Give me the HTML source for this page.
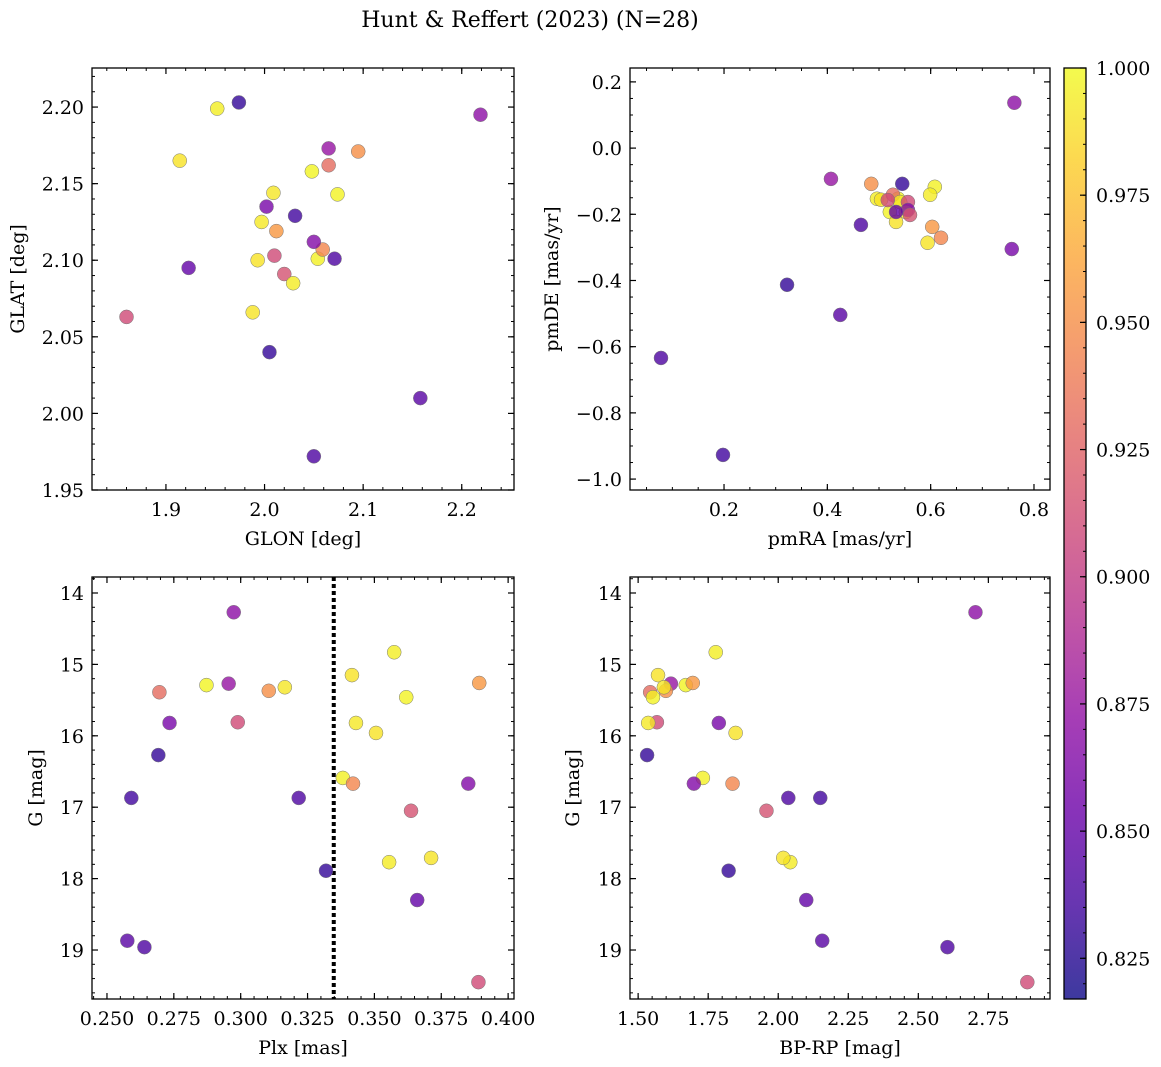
<!DOCTYPE html>
<html><head><meta charset="utf-8"><style>
html,body{margin:0;padding:0;background:#fff;}
svg{display:block;font-family:"DejaVu Serif","Liberation Serif",serif;}
</style></head><body>
<svg id="fig" width="1161" height="1067" viewBox="0 0 1161 1067" xmlns="http://www.w3.org/2000/svg">
<text x="530" y="27" font-size="22" text-anchor="middle">Hunt &amp; Reffert (2023) (N=28)</text>
</svg>
<script>
// star data (same order in every array)
const glon = [2.219,1.952,1.914,2.048,2.065,2.065,2.095,2.009,2.012,2.074,2.010,2.002,1.997,1.993,1.974,2.054,2.059,2.050,2.031,2.071,2.020,2.029,1.988,2.005,1.923,2.158,2.050,1.860];
const glat = [2.195,2.199,2.165,2.158,2.173,2.162,2.171,2.144,2.119,2.143,2.103,2.135,2.125,2.100,2.203,2.101,2.107,2.112,2.129,2.101,2.091,2.085,2.066,2.040,2.095,2.010,1.972,2.063];
const pmra = [0.762,0.496,0.504,0.537,0.407,0.527,0.485,0.541,0.603,0.521,0.556,0.757,0.552,0.533,0.545,0.608,0.620,0.556,0.198,0.465,0.560,0.599,0.594,0.322,0.533,0.425,0.078,0.517];
const pmde = [0.137,-0.153,-0.156,-0.153,-0.093,-0.141,-0.108,-0.163,-0.238,-0.193,-0.163,-0.305,-0.193,-0.223,-0.108,-0.117,-0.271,-0.187,-0.927,-0.232,-0.202,-0.141,-0.286,-0.413,-0.193,-0.504,-0.634,-0.157];
const plx  = [0.2974,0.3574,0.3416,0.2872,0.2955,0.2696,0.3105,0.3165,0.3892,0.3619,0.2989,0.2734,0.3431,0.3506,0.2692,0.3382,0.3420,0.3851,0.2591,0.3217,0.3637,0.3555,0.3712,0.3319,0.3660,0.2576,0.2640,0.3889];
const gmag = [14.27,14.83,15.15,15.29,15.27,15.39,15.37,15.32,15.26,15.46,15.81,15.82,15.82,15.96,16.27,16.59,16.67,16.67,16.87,16.87,17.05,17.77,17.71,17.89,18.30,18.87,18.96,19.45];
const bprp = [2.704,1.777,1.571,1.670,1.617,1.543,1.599,1.592,1.695,1.553,1.567,1.788,1.536,1.848,1.532,1.731,1.837,1.699,2.150,2.036,1.958,2.043,2.018,1.823,2.100,2.157,2.604,2.889];
const prob = [0.870,0.995,0.990,0.998,0.875,0.930,0.950,0.992,0.955,0.997,0.910,0.860,0.993,0.990,0.830,0.996,0.945,0.865,0.835,0.840,0.915,0.994,0.991,0.830,0.850,0.845,0.840,0.910];
const plxCut = [0.3348];
const cbTicks = [0.825,0.850,0.875,0.900,0.925,0.950,0.975,1.000];
const cbRange = [0.817,1.000];

const NS='http://www.w3.org/2000/svg';
const svg=document.getElementById('fig');
function mk(tag,attrs,parent){const e=document.createElementNS(NS,tag);for(const k in attrs)e.setAttribute(k,attrs[k]);(parent||svg).appendChild(e);return e;}
const stops=['#0d0887','#41049d','#6a00a8','#8f0da4','#b12a90','#cc4778','#e16462','#f2844b','#fca636','#fcce25','#f0f921'];
function hex(h){return [1,3,5].map(i=>parseInt(h.substr(i,2),16));}
function plasma(t){t=Math.max(0,Math.min(1,t));const f=t*10,i=Math.min(9,Math.floor(f)),r=f-i;const a=hex(stops[i]),b=hex(stops[i+1]);return 'rgb('+a.map((v,k)=>Math.round(v+(b[k]-v)*r)).join(',')+')';}
function pcol(p){return plasma((p-cbRange[0])/(cbRange[1]-cbRange[0]));}

function fmt(v,d){let s=v.toFixed(d);if(s.startsWith('-'))s='\u2212'+s.slice(1);return s;}
const FS=19;

function panel(cfg){
  const g=mk('g',{});
  
  
  const {L,R,T,B}=cfg;
  const sx=v=>L+(v-cfg.x0)/(cfg.x1-cfg.x0)*(R-L);
  const sy=cfg.inv? v=>T+(v-cfg.y0)/(cfg.y1-cfg.y0)*(B-T) : v=>B-(v-cfg.y0)/(cfg.y1-cfg.y0)*(B-T);
  const eps=1e-9;
  function ticks(a0,a1,step){const out=[];let s=Math.ceil((Math.min(a0,a1)-eps)/step)*step;for(let v=s;v<=Math.max(a0,a1)+eps;v+=step)out.push(+v.toFixed(6));return out;}
  ticks(cfg.x0,cfg.x1,cfg.xminor).forEach(v=>{const x=sx(v);mk('line',{x1:x,x2:x,y1:B,y2:B-3,stroke:'#000','stroke-width':1},g);mk('line',{x1:x,x2:x,y1:T,y2:T+3,stroke:'#000','stroke-width':1},g);});
  ticks(cfg.y0,cfg.y1,cfg.yminor).forEach(v=>{const y=sy(v);mk('line',{x1:L,x2:L+3,y1:y,y2:y,stroke:'#000','stroke-width':1},g);mk('line',{x1:R,x2:R-3,y1:y,y2:y,stroke:'#000','stroke-width':1},g);});
  ticks(cfg.x0,cfg.x1,cfg.xmajor).forEach(v=>{const x=sx(v);mk('line',{x1:x,x2:x,y1:B,y2:B-6,stroke:'#000','stroke-width':1.2},g);mk('line',{x1:x,x2:x,y1:T,y2:T+6,stroke:'#000','stroke-width':1.2},g);
    const t=mk('text',{x:x,y:B+26,'font-size':FS,'text-anchor':'middle'},g);t.textContent=fmt(v,cfg.xd);
    
    });
  ticks(cfg.y0,cfg.y1,cfg.ymajor).forEach(v=>{const y=sy(v);mk('line',{x1:L,x2:L+6,y1:y,y2:y,stroke:'#000','stroke-width':1.2},g);mk('line',{x1:R,x2:R-6,y1:y,y2:y,stroke:'#000','stroke-width':1.2},g);
    const t=mk('text',{x:L-8,y:y+7,'font-size':FS,'text-anchor':'end'},g);t.textContent=fmt(v,cfg.yd);
    
    });
  if(cfg.vline){cfg.vline.forEach(v=>{const x=sx(v);const l=mk('line',{x1:x,x2:x,y1:T,y2:B,stroke:'#000','stroke-width':4,'stroke-dasharray':'4,3'},g);
    
    });}
  for(let i=0;i<cfg.xs.length;i++){
    const c=mk('circle',{cx:sx(cfg.xs[i]),cy:sy(cfg.ys[i]),r:7,fill:pcol(prob[i]),'fill-opacity':0.8,stroke:'#777','stroke-width':0.5},g);
    
    
  }
  const fr=mk('rect',{x:L,y:T,width:R-L,height:B-T,fill:'none',stroke:'#000','stroke-width':1.3},g);
  
  
  const xl=mk('text',{x:(L+R)/2,y:B+55,'font-size':FS,'text-anchor':'middle'},g);xl.textContent=cfg.xlabel;
  
  
  const yl=mk('text',{x:0,y:0,'font-size':FS,'text-anchor':'middle',transform:'translate('+cfg.ylx+','+((T+B)/2)+') rotate(-90)'},g);yl.textContent=cfg.ylabel;
  
  
}

panel({name:'glon-glat-panel',L:92,R:514,T:68,B:490,x0:1.825,x1:2.253,y0:1.95,y1:2.2255,xmajor:0.1,xminor:0.02,ymajor:0.05,yminor:0.01,xd:1,yd:2,xs:glon,ys:glat,xlabel:'GLON [deg]',ylabel:'GLAT [deg]',ylx:24});
panel({name:'proper-motion-panel',L:630,R:1050,T:68,B:490,x0:0.018,x1:0.831,y0:-1.033,y1:0.242,xmajor:0.2,xminor:0.05,ymajor:0.2,yminor:0.05,xd:1,yd:1,xs:pmra,ys:pmde,xlabel:'pmRA [mas/yr]',ylabel:'pmDE [mas/yr]',ylx:558});
panel({name:'plx-g-panel',L:92,R:514,T:577,B:999,x0:0.2444,x1:0.4022,y0:13.776,y1:19.686,inv:true,xmajor:0.025,xminor:0.005,ymajor:1,yminor:0.2,xd:3,yd:0,xs:plx,ys:gmag,xlabel:'Plx [mas]',ylabel:'G [mag]',ylx:42,vline:plxCut});
panel({name:'cmd-panel',L:630,R:1050,T:577,B:999,x0:1.471,x1:2.970,y0:13.776,y1:19.686,inv:true,xmajor:0.25,xminor:0.05,ymajor:1,yminor:0.2,xd:2,yd:0,xs:bprp,ys:gmag,xlabel:'BP-RP [mag]',ylabel:'G [mag]',ylx:579});

(function(){
  const L=1064,R=1086,T=68,B=999;
  const g=mk('g',{});
  
  
  const defs=mk('defs',{},g);
  const lg=mk('linearGradient',{id:'cbg',x1:0,y1:1,x2:0,y2:0},defs);
  for(let k=0;k<=20;k++){mk('stop',{offset:k/20,'stop-color':plasma(k/20),'stop-opacity':0.8},lg);}
  mk('rect',{x:L,y:T,width:R-L,height:B-T,fill:'url(#cbg)'},g);
  const sy=v=>B-(v-cbRange[0])/(cbRange[1]-cbRange[0])*(B-T);
  for(let v=0.82;v<=1.0001;v+=0.005){const y=sy(v);mk('line',{x1:R,x2:R-3,y1:y,y2:y,stroke:'#000','stroke-width':1},g);}
  cbTicks.forEach(v=>{const y=sy(v);mk('line',{x1:R,x2:R-6,y1:y,y2:y,stroke:'#000','stroke-width':1.2},g);
    const t=mk('text',{x:1096,y:y+7,'font-size':FS},g);t.textContent=v.toFixed(3);
    
    });
  mk('rect',{x:L,y:T,width:R-L,height:B-T,fill:'none',stroke:'#000','stroke-width':1.3},g);
})();
</script>
</body></html>
